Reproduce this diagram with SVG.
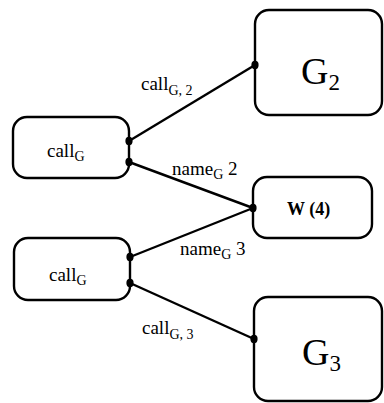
<svg xmlns="http://www.w3.org/2000/svg" width="384" height="403" viewBox="0 0 384 403">
<style>
.box{fill:#fff;stroke:#000;stroke-width:2.4}
.edge{stroke:#000;stroke-width:2.4;fill:none}
.dot{fill:#000}
text{font-family:"Liberation Serif","Times New Roman",serif;fill:#000}
.lbl{font-size:19px}
.in{font-size:19px}
.sub{font-size:14px}
.big{font-size:38px}
</style>
<rect width="384" height="403" fill="#fff"/>
<g id="connectors">
<line class="edge" x1="129" y1="141" x2="255" y2="65"/>
<line class="edge" x1="129" y1="162" x2="253" y2="208"/>
<line class="edge" x1="130" y1="257" x2="253" y2="208"/>
<line class="edge" x1="130" y1="283" x2="254" y2="339"/>
<text class="lbl" x="141" y="90">call<tspan class="sub" dy="5">G, 2</tspan></text>
<text class="lbl" x="172" y="175">name<tspan class="sub" dy="4">G</tspan><tspan dy="-4"> 2</tspan></text>
<text class="lbl" x="180" y="255">name<tspan class="sub" dy="4">G</tspan><tspan dy="-4"> 3</tspan></text>
<text class="lbl" x="142" y="334">call<tspan class="sub" dy="5">G, 3</tspan></text>
</g>
<g id="callG1">
<rect class="box" x="13" y="117" width="116" height="61" rx="14"/>
<text class="in" x="47" y="157">call<tspan class="sub" dy="4">G</tspan></text>
<ellipse class="dot" cx="129" cy="141" rx="3.6" ry="4.2"/>
<ellipse class="dot" cx="129" cy="162" rx="3.6" ry="4.2"/>
</g>
<g id="callG2">
<rect class="box" x="14" y="238" width="116" height="62" rx="14"/>
<text class="in" x="49" y="281">call<tspan class="sub" dy="4">G</tspan></text>
<ellipse class="dot" cx="130" cy="257" rx="3.6" ry="4.2"/>
<ellipse class="dot" cx="130" cy="283" rx="3.6" ry="4.2"/>
</g>
<g id="G2">
<rect class="box" x="255" y="10" width="127" height="105" rx="14"/>
<text class="big" x="301" y="84">G<tspan font-size="23" dy="6">2</tspan></text>
<ellipse class="dot" cx="255" cy="65" rx="3.6" ry="4.2"/>
</g>
<g id="W4">
<rect class="box" x="253" y="177" width="119" height="61" rx="14"/>
<text x="287" y="215" font-size="18" font-weight="bold">W (4)</text>
<ellipse class="dot" cx="253" cy="208" rx="3.6" ry="4.2"/>
</g>
<g id="G3">
<rect class="box" x="254" y="297" width="128" height="104" rx="14"/>
<text class="big" x="302" y="365">G<tspan font-size="23" dy="6">3</tspan></text>
<ellipse class="dot" cx="254" cy="339" rx="3.6" ry="4.2"/>
</g>
</svg>
